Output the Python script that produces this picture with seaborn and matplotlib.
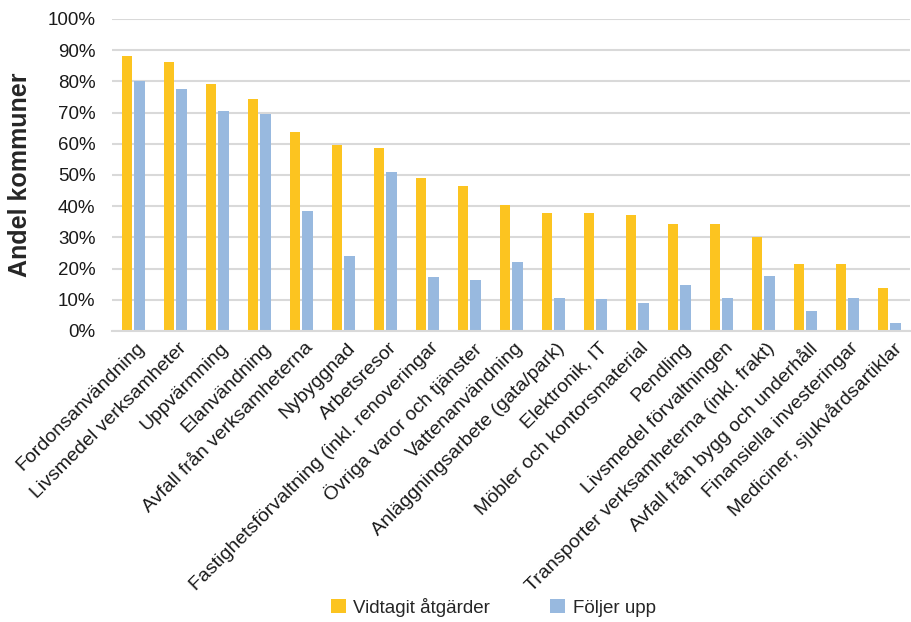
import pandas as pd
import seaborn as sns
import matplotlib.pyplot as plt
import matplotlib.transforms as mtransforms
from matplotlib.ticker import PercentFormatter

# Kategorier och värden (andel kommuner, %)
kategorier = [
    "Fordonsanvändning",
    "Livsmedel verksamheter",
    "Uppvärmning",
    "Elanvändning",
    "Avfall från verksamheterna",
    "Nybyggnad",
    "Arbetsresor",
    "Fastighetsförvaltning (inkl. renoveringar",
    "Övriga varor och tjänster",
    "Vattenanvändning",
    "Anläggningsarbete (gata/park)",
    "Elektronik, IT",
    "Möbler och kontorsmaterial",
    "Pendling",
    "Livsmedel förvaltningen",
    "Transporter verksamheterna (inkl. frakt)",
    "Avfall från bygg och underhåll",
    "Finansiella investeringar",
    "Mediciner, sjukvårdsartiklar",
]
vidtagit = [88, 86.2, 79.3, 74.2, 63.8, 59.5, 58.7, 49.1, 46.6, 40.4,
            37.8, 37.8, 37.0, 34.3, 34.3, 30.0, 21.4, 21.4, 13.7]
foljer = [80, 77.4, 70.6, 69.4, 38.3, 23.9, 51.1, 17.3, 16.3, 22.1,
          10.6, 10.1, 9.1, 14.7, 10.6, 17.6, 6.3, 10.6, 2.6]
serier = ["Vidtagit åtgärder", "Följer upp"]

df = pd.DataFrame({
    "kategori": kategorier * 2,
    "andel": vidtagit + foljer,
    "serie": [serier[0]] * len(kategorier) + [serier[1]] * len(kategorier),
})

sns.set_style("white")
plt.rcParams['font.family'] = ['Liberation Sans', 'DejaVu Sans']

fig = plt.figure(figsize=(9.12, 6.22), dpi=100)
ax = fig.add_axes([0.123, 0.468, 0.875, 0.5015])

sns.barplot(data=df, x="kategori", y="andel", hue="serie",
            palette=["#FCC420", "#98B9DF"], saturation=1, width=0.6, gap=0.2,
            linewidth=0, ax=ax, legend=True)

ax.set_ylim(0, 100)
ax.set_xlim(-0.5, len(kategorier) - 0.5)
ax.set_yticks(range(0, 101, 10))
ax.yaxis.set_major_formatter(PercentFormatter(decimals=0))
ax.grid(axis="y", color="#D9D9D9", linewidth=1.5)
ax.set_axisbelow(True)
for s in ["top", "right", "left"]:
    ax.spines[s].set_visible(False)
ax.spines["bottom"].set_color("#D9D9D9")
ax.spines["bottom"].set_linewidth(1.5)
ax.tick_params(axis="y", length=0, labelsize=13.5, pad=12, colors="#1a1a1a")
ax.tick_params(axis="x", length=0, labelsize=14, pad=4, colors="#1a1a1a")
# etiketterna lite åt höger och nedåt, som i originalet
forskjut = mtransforms.ScaledTranslation(3 / 100, -3 / 100, fig.dpi_scale_trans)
for lbl in ax.get_xticklabels():
    lbl.set_rotation(45)
    lbl.set_ha("right")
    lbl.set_rotation_mode("anchor")
    lbl.set_transform(lbl.get_transform() + forskjut)

ax.set_xlabel("")
ax.set_ylabel("Andel kommuner", fontsize=18, fontweight="bold", labelpad=11)

handles, labels = ax.get_legend_handles_labels()
ax.get_legend().remove()
fig.legend(handles, labels, loc="center", bbox_to_anchor=(0.541, 0.024), ncol=2,
           frameon=False, fontsize=13.5, handlelength=0.8, handleheight=0.8,
           handletextpad=0.4, columnspacing=3.2)

fig.savefig("out.png", dpi=100)
